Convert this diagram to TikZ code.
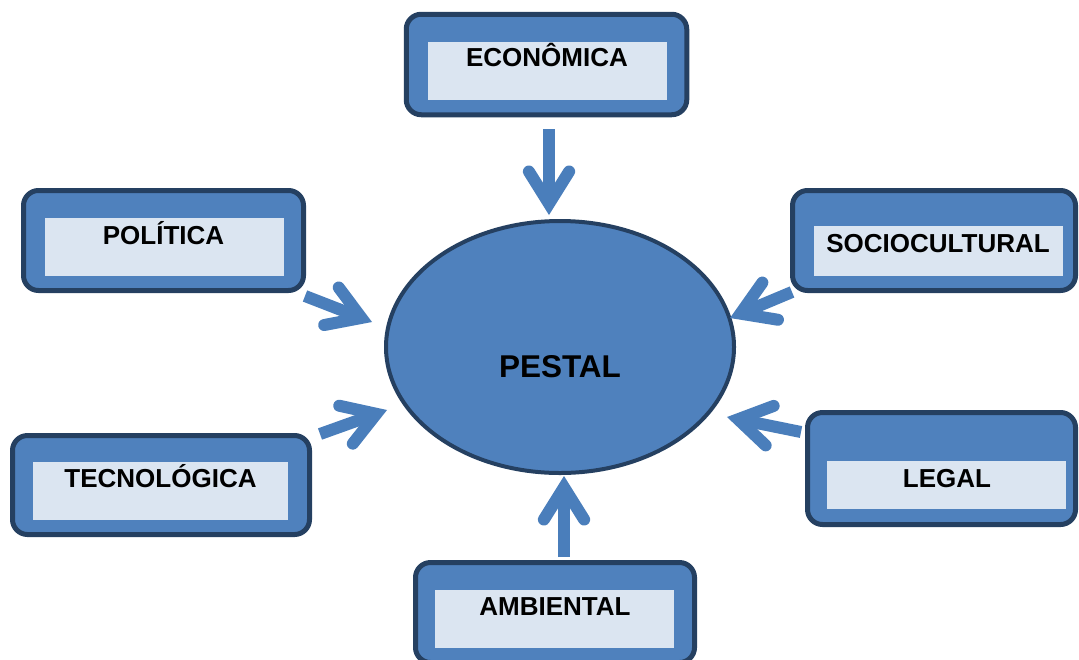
\documentclass[tikz,border=0pt]{standalone}
\usepackage{fontspec}
\setmainfont{Liberation Sans}
\usetikzlibrary{shapes.geometric,calc}
\definecolor{boxfill}{HTML}{4F81BD}
\definecolor{boxborder}{HTML}{254061}
\definecolor{innerfill}{HTML}{DBE5F1}
\definecolor{arrowcol}{HTML}{4A7EBB}
\tikzset{
  outerbox/.style={draw=boxborder, fill=boxfill, line width=2.5pt, rounded corners=7.5pt, inner sep=0pt},
  innerbox/.style={fill=innerfill, draw=none, inner sep=0pt},
  lbl/.style={anchor=base, inner sep=0pt, font=\fontsize{13pt}{15pt}\selectfont\bfseries},
  bigl/.style={anchor=base, inner sep=0pt, font=\fontsize{15.75pt}{18pt}\selectfont\bfseries},
  centre/.style={ellipse, draw=boxborder, fill=boxfill, line width=2pt, inner sep=0pt},
  shaftline/.style={draw=arrowcol, line width=6pt, line cap=butt},
  barbline/.style={draw=arrowcol, line width=6pt, line cap=round, line join=miter},
}
\newcommand\fatarrow[2]{%
  \coordinate (#1v) at ($(#2)!5.65pt!(#1)$);
  \draw[shaftline] (#1) -- (#1v);
  \draw[barbline] ($(#1v)!19pt!32:(#1)$) -- (#1v) -- ($(#1v)!19pt!-32:(#1)$);
}
\begin{document}
\begin{tikzpicture}[x=0.5pt,y=-0.5pt]
\useasboundingbox (0,0) rectangle (1079,659);

% outer boxes
\node[outerbox, minimum width=140.25pt, minimum height=50.25pt] (eco) at (546.5,64.5) {};
\node[outerbox, minimum width=140pt, minimum height=50pt] (pol) at (163.5,240.5) {};
\node[outerbox, minimum width=141.5pt, minimum height=50pt] (soc) at (934,240.5) {};
\node[outerbox, minimum width=148.5pt, minimum height=49.5pt] (tec) at (161,485) {};
\node[outerbox, minimum width=134pt, minimum height=56pt] (leg) at (941.5,468.5) {};
\node[outerbox, minimum width=139.5pt, minimum height=50pt] (amb) at (555,612.5) {};

% inner boxes
\node[innerbox, minimum width=119.5pt, minimum height=29pt] (ecoin) at (547.5,71) {};
\node[innerbox, minimum width=119.5pt, minimum height=29pt] (polin) at (164.5,247) {};
\node[innerbox, minimum width=124.5pt, minimum height=25pt] (socin) at (938.5,251) {};
\node[innerbox, minimum width=127.5pt, minimum height=29pt] (tecin) at (160.5,491) {};
\node[innerbox, minimum width=119.5pt, minimum height=24pt] (legin) at (946.5,485) {};
\node[innerbox, minimum width=119.5pt, minimum height=29pt] (ambin) at (554.5,619) {};

% labels
\node[lbl] (ecot) at (547,66.7) {ECONÔMICA};
\node[lbl] (polt) at (163.5,244) {POLÍTICA};
\node[lbl] (soct) at (938,252) {SOCIOCULTURAL};
\node[lbl] (tect) at (160.5,487) {TECNOLÓGICA};
\node[lbl] (legt) at (947,487) {LEGAL};
\node[lbl] (ambt) at (555,615) {AMBIENTAL};

% centre ellipse
\node[centre, minimum width=174pt, minimum height=126pt] (pestal) at (560,347) {};
\node[bigl] (pestalt) at (560,377) {PESTAL};

% arrow end points
\coordinate (ecoS) at (549,129);  \coordinate (ecoT) at (549,215);
\coordinate (polS) at (305,296);  \coordinate (polT) at (372,322);
\coordinate (socS) at (792,292);  \coordinate (socT) at (730,318);
\coordinate (tecS) at (320,434);  \coordinate (tecT) at (387,410);
\coordinate (legS) at (801,432);  \coordinate (legT) at (727,417);
\coordinate (ambS) at (564,557);  \coordinate (ambT) at (564,476);

\fatarrow{ecoS}{ecoT}
\fatarrow{polS}{polT}
\fatarrow{socS}{socT}
\fatarrow{tecS}{tecT}
\fatarrow{legS}{legT}
\fatarrow{ambS}{ambT}
\end{tikzpicture}
\end{document}
